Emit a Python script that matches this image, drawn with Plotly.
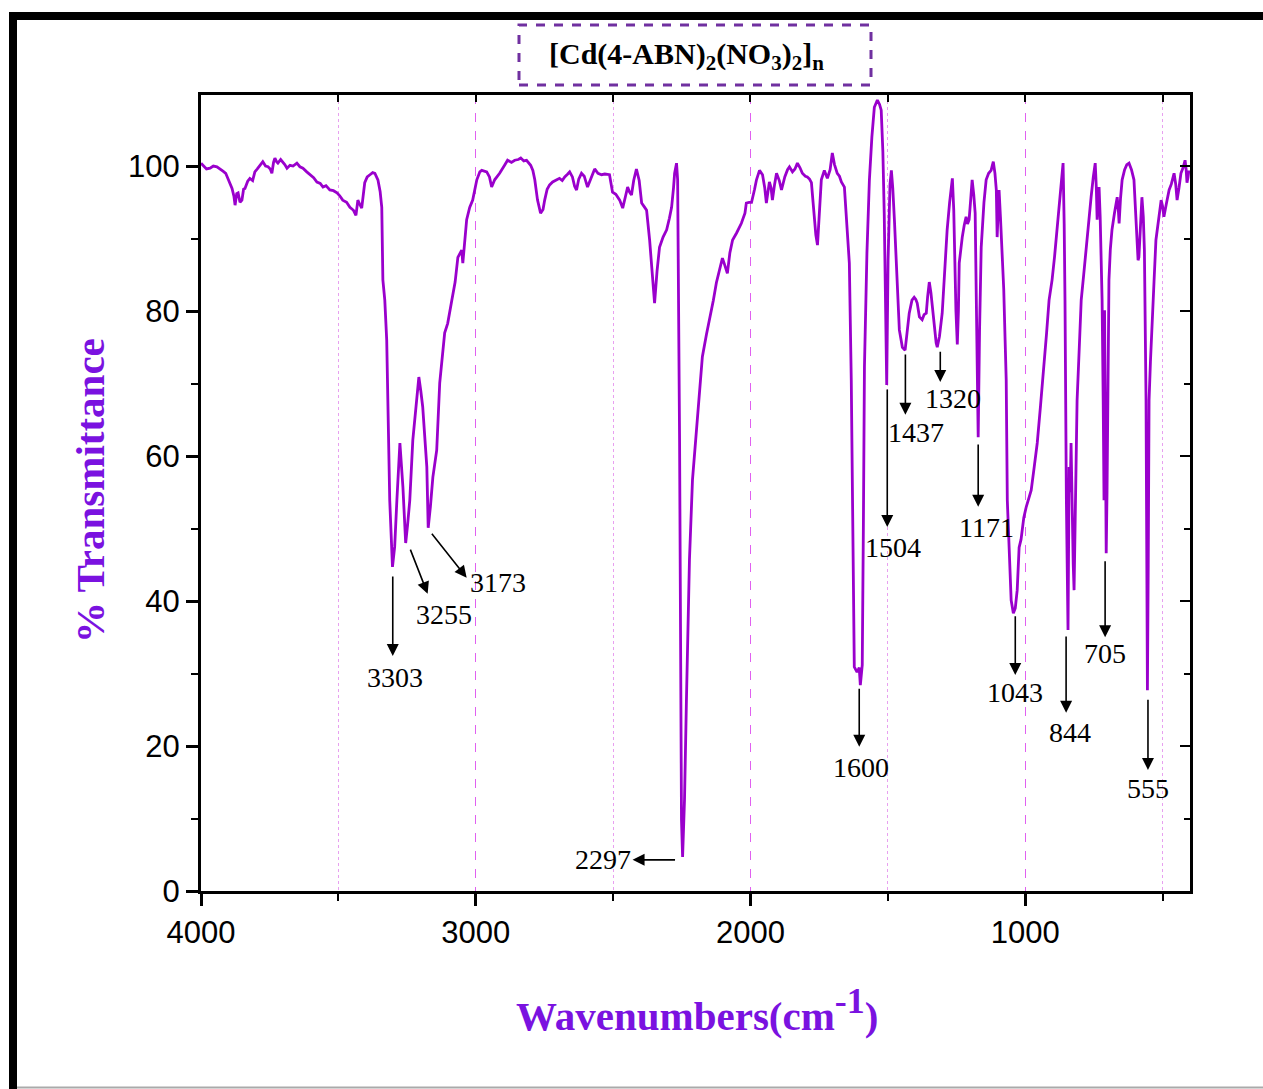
import plotly.graph_objects as go

# ---------------- data ----------------
wavenumber = [
    4000, 3993, 3980, 3967, 3955, 3942, 3930, 3920, 3910, 3902, 3887, 3880, 3876, 3870, 3865, 3858, 3851, 3845,
    3840, 3830, 3822, 3812, 3804, 3795, 3785, 3775, 3765, 3756, 3748, 3742, 3736, 3731, 3725, 3720, 3710, 3702,
    3695, 3687, 3676, 3665, 3651, 3640, 3629, 3615, 3604, 3590, 3578, 3566, 3556, 3545, 3531, 3518, 3505, 3495,
    3484, 3470, 3458, 3445, 3436, 3429, 3422, 3415, 3404, 3395, 3385, 3375, 3367, 3356, 3348, 3342, 3338, 3331,
    3324, 3320, 3313, 3303, 3295, 3287, 3276, 3265, 3255, 3248, 3240, 3229, 3215, 3207, 3200, 3193, 3178, 3173,
    3165, 3156, 3142, 3131, 3113, 3102, 3087, 3075, 3065, 3051, 3047, 3040, 3033, 3022, 3011, 2996, 2985, 2978,
    2960, 2950, 2942, 2931, 2913, 2895, 2884, 2870, 2858, 2845, 2836, 2825, 2815, 2800, 2792, 2785, 2775, 2764,
    2755, 2749, 2740, 2731, 2720, 2705, 2695, 2685, 2676, 2665, 2658, 2648, 2640, 2633, 2625, 2615, 2605, 2593,
    2580, 2567, 2555, 2542, 2530, 2513, 2502, 2490, 2476, 2465, 2455, 2447, 2440, 2433, 2425, 2415, 2405, 2396,
    2385, 2378, 2367, 2360, 2349, 2340, 2331, 2318, 2305, 2295, 2287, 2280, 2276, 2269, 2265, 2258, 2255, 2251,
    2247, 2240, 2233, 2222, 2211, 2196, 2185, 2175, 2160, 2149, 2135, 2124, 2112, 2102, 2095, 2084, 2075, 2065,
    2050, 2033, 2020, 2015, 2005, 1996, 1985, 1978, 1967, 1956, 1948, 1942, 1936, 1931, 1925, 1920, 1912, 1905,
    1895, 1887, 1875, 1865, 1858, 1847, 1838, 1829, 1820, 1811, 1800, 1793, 1785, 1778, 1772, 1767, 1762, 1756,
    1750, 1742, 1731, 1720, 1710, 1702, 1694, 1684, 1676, 1669, 1658, 1650, 1640, 1633, 1629, 1622, 1612, 1604,
    1600, 1593, 1589, 1585, 1576, 1567, 1558, 1549, 1538, 1530, 1524, 1518, 1513, 1507, 1504, 1499, 1492, 1487,
    1482, 1476, 1468, 1458, 1447, 1437, 1430, 1422, 1412, 1404, 1398, 1393, 1385, 1375, 1368, 1360, 1355, 1349,
    1343, 1338, 1330, 1324, 1320, 1312, 1302, 1292, 1284, 1275, 1265, 1260, 1258, 1252, 1247, 1243, 1240, 1235,
    1229, 1222, 1215, 1210, 1204, 1198, 1193, 1187, 1182, 1178, 1175, 1171, 1166, 1160, 1150, 1142, 1133, 1124,
    1116, 1110, 1105, 1102, 1098, 1095, 1090, 1084, 1078, 1073, 1069, 1065, 1058, 1051, 1043, 1036, 1029, 1022,
    1015, 1005, 996, 987, 978, 967, 956, 944, 931, 922, 913, 902, 893, 884, 875, 865, 862, 858, 855, 850, 844,
    840, 836, 833, 829, 825, 822, 817, 811, 803, 796, 787, 778, 768, 760, 752, 745, 741, 738, 734, 731, 727, 724,
    720, 716, 713, 711, 708, 705, 702, 700, 695, 690, 684, 675, 665, 661, 658, 653, 647, 638, 630, 622, 613, 604,
    598, 593, 589, 586, 581, 575, 570, 566, 560, 555, 552, 549, 544, 538, 531, 524, 515, 505, 500, 495, 485, 476,
    468, 458, 452, 447, 440, 433, 425, 418, 414, 411, 407, 404,
]
transmittance = [
    100.4, 100.1, 99.6, 99.7, 100.0, 99.9, 99.5, 99.3, 99.0, 98.3, 96.9, 95.8, 94.6, 96.2, 96.3, 95.0, 95.3, 96.8,
    96.9, 97.9, 98.3, 98.0, 99.2, 99.6, 100.1, 100.6, 100.0, 99.9, 99.6, 99.0, 100.5, 101.1, 100.6, 100.4, 100.9, 100.6,
    100.2, 99.7, 100.1, 100.0, 100.4, 99.9, 99.7, 99.2, 98.8, 98.4, 97.8, 97.6, 97.1, 97.3, 96.7, 96.6, 96.3, 95.9,
    95.3, 95.0, 94.3, 93.9, 93.2, 95.3, 94.7, 94.2, 97.7, 98.5, 98.8, 99.1, 99.0, 98.1, 96.5, 94.3, 84.3, 81.5,
    76.0, 67.7, 53.9, 44.7, 47.5, 53.9, 61.8, 55.7, 48.0, 50.5, 53.9, 62.2, 67.3, 70.9, 69.0, 66.8, 58.5, 50.1,
    53.0, 57.1, 60.8, 70.1, 77.0, 78.3, 81.5, 84.0, 87.4, 88.4, 86.6, 90.0, 92.6, 94.3, 95.3, 98.1, 99.2, 99.4,
    99.2, 98.5, 97.1, 98.1, 99.0, 100.1, 100.8, 100.5, 100.8, 100.9, 101.1, 100.7, 100.8, 100.1, 99.4, 98.1, 95.3, 93.5,
    94.0, 95.3, 96.8, 97.4, 97.8, 98.1, 98.3, 98.0, 98.5, 98.9, 99.2, 98.5, 97.2, 96.7, 98.2, 99.0, 98.6, 97.1,
    98.5, 99.6, 99.0, 98.8, 98.9, 98.8, 96.4, 96.1, 95.3, 94.2, 95.8, 97.1, 96.4, 96.0, 98.0, 99.6, 98.0, 94.9,
    94.3, 93.9, 89.8, 86.0, 81.1, 85.5, 88.8, 90.2, 91.2, 92.8, 94.3, 97.0, 99.0, 100.4, 98.1, 62.2, 33.2, 9.8,
    4.7, 12.6, 26.3, 45.7, 56.7, 63.6, 69.0, 73.7, 76.8, 78.8, 81.5, 83.9, 85.8, 87.3, 86.5, 85.2, 88.0, 89.8,
    90.8, 92.1, 93.5, 94.9, 95.0, 95.0, 96.8, 98.1, 99.4, 98.8, 97.0, 94.9, 96.5, 97.8, 97.0, 95.3, 97.5, 99.0,
    98.0, 96.7, 98.5, 99.5, 99.9, 99.2, 99.6, 100.4, 99.8, 99.0, 98.6, 98.5, 98.2, 97.7, 95.0, 92.6, 90.5, 89.1,
    93.0, 98.1, 99.4, 98.3, 99.5, 101.8, 100.2, 99.0, 98.6, 97.8, 97.1, 93.0, 86.6, 70.5, 53.9, 30.9, 30.2, 30.8,
    28.4, 31.2, 50.0, 72.3, 88.0, 98.1, 104.0, 108.1, 109.1, 108.5, 107.7, 102.0, 93.5, 77.4, 69.8, 87.0, 97.5, 99.4,
    97.0, 92.6, 86.0, 77.4, 75.0, 74.6, 77.0, 79.7, 81.5, 81.9, 81.6, 81.1, 79.2, 78.8, 79.5, 79.7, 82.0, 84.0,
    82.5, 80.6, 77.0, 75.6, 75.0, 76.5, 79.7, 86.0, 91.2, 95.0, 98.3, 94.0, 88.8, 80.0, 75.4, 80.0, 86.6, 88.5,
    90.2, 91.8, 93.0, 92.0, 92.6, 95.5, 98.1, 96.0, 93.5, 82.0, 70.5, 62.6, 77.4, 88.8, 95.0, 98.1, 99.0, 99.4,
    100.6, 99.0, 96.7, 90.2, 94.0, 96.7, 93.0, 88.8, 83.0, 76.0, 70.5, 53.9, 46.0, 40.1, 38.3, 39.0, 41.5, 47.4,
    48.5, 51.5, 53.0, 54.0, 55.3, 58.5, 61.8, 67.0, 72.3, 77.0, 81.5, 84.3, 87.5, 91.2, 95.0, 99.9, 100.4, 92.0, 81.5, 53.9, 36.0,
    58.5, 55.0, 61.8, 51.6, 45.0, 41.5, 55.0, 67.7, 75.0, 81.5, 85.0, 88.8, 92.5, 95.7, 98.5, 100.4, 97.0, 92.6, 95.5, 97.1, 93.0, 88.8,
    81.5, 67.7, 53.9, 80.1, 60.0, 46.6, 55.0, 67.7, 84.3, 88.5, 91.2, 93.5, 95.7, 94.0, 92.1, 95.5, 98.1, 99.5, 100.2, 100.4, 99.5, 98.1,
    94.0, 88.8, 87.0, 87.4, 91.5, 95.7, 93.0, 88.4, 67.7, 27.7, 45.0, 67.7, 73.0, 77.4, 84.0, 89.8, 92.5, 95.3, 94.5, 93.0, 95.0, 96.7,
    97.5, 99.0, 97.5, 95.3, 97.0, 99.0, 99.8, 100.8, 99.5, 97.7, 98.5, 99.4,
]

# peak labels and where their arrows / texts sit (wavenumber, %T)
peak_labels = ["3303", "3255", "3173", "2297", "1600", "1504", "1437", "1320", "1171", "1043", "844", "705", "555"]
arrow_tail_wn = [3302, 3240, 3164, 2269, 1604, 1502, 1436, 1309, 1171, 1036, 851, 709, 553]
arrow_tail_t = [43.6, 47.3, 49.5, 4.3, 28.1, 69.4, 74.2, 74.6, 61.8, 38.1, 35.3, 45.7, 26.6]
arrow_head_wn = [3302, 3175, 3033, 2429, 1604, 1502, 1436, 1309, 1171, 1036, 851, 709, 553]
arrow_head_t = [32.4, 41.0, 43.2, 4.3, 19.9, 50.2, 65.7, 70.2, 53.0, 29.8, 24.6, 35.0, 16.7]
label_wn = [3295, 3116, 2920, 2538, 1596, 1480, 1396, 1262, 1142, 1036, 836, 709, 553]
label_t = [29.5, 38.2, 42.6, 4.4, 17.1, 47.4, 63.3, 68.0, 50.2, 27.4, 21.9, 32.8, 14.2]

x_range = [4000, 400]
y_range = [0, 109.8]

# ---------------- styling ----------------
LINE_COLOR = "#9A00CC"
TITLE_COLOR = "#7A12E0"
SERIF = "Liberation Serif, Times New Roman, serif"
SANS = "Liberation Sans, Arial, sans-serif"

fig = go.Figure()
fig.add_trace(go.Scatter(x=wavenumber, y=transmittance, mode="lines",
                         line=dict(color=LINE_COLOR, width=2.8), showlegend=False,
                         hoverinfo="x+y"))
# helper trace so the mirrored (inside-tick) axes are drawn
fig.add_trace(go.Scatter(x=[x_range[0]], y=[y_range[0]], xaxis="x2", yaxis="y2", mode="markers",
                         marker=dict(opacity=0), showlegend=False, hoverinfo="skip"))

annotations = []
for i, lab in enumerate(peak_labels):
    annotations.append(dict(x=arrow_head_wn[i], y=arrow_head_t[i], ax=arrow_tail_wn[i], ay=arrow_tail_t[i],
                            xref="x", yref="y", axref="x", ayref="y", text="", showarrow=True,
                            arrowhead=2, arrowsize=1.5, arrowwidth=1.6, arrowcolor="black"))
    annotations.append(dict(x=label_wn[i], y=label_t[i], xref="x", yref="y", text=lab, showarrow=False,
                            font=dict(family=SERIF, size=28, color="black"),
                            xanchor="center", yanchor="middle"))

# plot-area pixel -> paper helpers (plot area: x 201..1190, y 95..891)
def px(v):
    return (v - 201) / 989.0

def py(v):
    return (891 - v) / 796.0

annotations += [
    dict(x=px(686), y=py(56), xref="paper", yref="paper", showarrow=False,
         text="<b>[Cd(4-ABN)<sub>2</sub>(NO<sub>3</sub>)<sub>2</sub>]<sub>n</sub></b>",
         font=dict(family=SERIF, size=30, color="black"), xanchor="center", yanchor="middle"),
    dict(x=px(90), y=py(491), xref="paper", yref="paper", showarrow=False, textangle=-90,
         text="<b>% Transmittance</b>", font=dict(family=SERIF, size=41, color=TITLE_COLOR),
         xanchor="center", yanchor="middle"),
    dict(x=px(697), y=py(1010), xref="paper", yref="paper", showarrow=False,
         text="<b>Wavenumbers(cm<sup><span style='font-size:36px'>-1</span></sup>)</b>",
         font=dict(family=SERIF, size=41, color=TITLE_COLOR),
         xanchor="center", yanchor="middle"),
]

shapes = [
    # frame of the page
    dict(type="rect", xref="paper", yref="paper", x0=px(9), x1=px(1263), y0=py(20), y1=py(12),
         fillcolor="black", line=dict(width=0)),
    dict(type="rect", xref="paper", yref="paper", x0=px(9), x1=px(17), y0=py(1089), y1=py(12),
         fillcolor="black", line=dict(width=0)),
    dict(type="line", xref="paper", yref="paper", x0=px(17), x1=px(1263), y0=py(1087.5), y1=py(1087.5),
         line=dict(color="#AAAAAA", width=2)),
    # dashed title box
    dict(type="rect", xref="paper", yref="paper", x0=px(519), x1=px(871), y0=py(85), y1=py(25),
         line=dict(color="#7030A0", width=3, dash="dash"), fillcolor="rgba(0,0,0,0)"),
]

fig.update_layout(
    width=1263, height=1089, autosize=False,
    margin=dict(l=201, r=73, t=95, b=198, pad=0),
    paper_bgcolor="white", plot_bgcolor="white",
    annotations=annotations, shapes=shapes,
    xaxis=dict(range=x_range, tick0=0, dtick=1000, ticks="outside", ticklen=12, tickwidth=2.5,
               tickcolor="black", showline=True, linewidth=3, linecolor="black", mirror=True,
               showgrid=True, gridcolor="#E060F0", gridwidth=1.3, griddash="dash", zeroline=False,
               tickfont=dict(family=SANS, size=31, color="black"),
               minor=dict(dtick=500, tick0=0, ticks="outside", ticklen=7, tickwidth=2, tickcolor="black",
                          showgrid=True, gridcolor="#E8A0F0", gridwidth=1, griddash="dot")),
    yaxis=dict(range=y_range, tick0=0, dtick=20, ticks="outside", ticklen=12, tickwidth=2.5,
               tickcolor="black", showline=True, linewidth=3, linecolor="black", mirror=True,
               showgrid=False, zeroline=False,
               tickfont=dict(family=SANS, size=31, color="black"),
               minor=dict(dtick=10, tick0=0, ticks="outside", ticklen=7, tickwidth=2, tickcolor="black",
                          showgrid=False)),
    xaxis2=dict(range=x_range, overlaying="x", side="top", anchor="y", tick0=0, dtick=1000,
                ticks="inside", ticklen=7, tickwidth=2, tickcolor="black", showticklabels=False,
                showline=False, showgrid=False, zeroline=False,
                minor=dict(dtick=500, tick0=0, ticks="inside", ticklen=7, tickwidth=2, tickcolor="black")),
    yaxis2=dict(range=y_range, overlaying="y", side="right", anchor="x", tick0=0, dtick=20,
                ticks="inside", ticklen=10, tickwidth=2, tickcolor="black", showticklabels=False,
                showline=False, showgrid=False, zeroline=False,
                minor=dict(dtick=10, tick0=0, ticks="inside", ticklen=6, tickwidth=2, tickcolor="black")),
)

fig.write_html("out.html")
